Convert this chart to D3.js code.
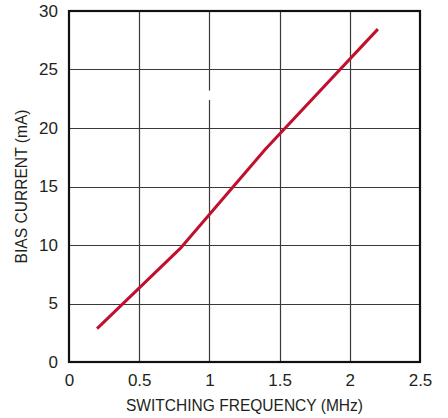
<!DOCTYPE html>
<html>
<head>
<meta charset="utf-8">
<script src="https://cdn.jsdelivr.net/npm/d3@7"></script>
<style>
  body { margin: 0; background: #fff; }
  text { font-family: "Liberation Sans Narrow", "Arial Narrow", "Liberation Sans", sans-serif; fill: #231f20; }
</style>
</head>
<body>
<div id="chart"></div>
<script>
// bias current vs switching frequency
const freqMHz = [0.2, 0.8, 1.4, 2.2];
const biasMA = [2.85, 9.8, 18.2, 28.45];
const xTicks = [0, 0.5, 1, 1.5, 2, 2.5];
const yTicks = [0, 5, 10, 15, 20, 25, 30];
const xTitle = "SWITCHING FREQUENCY (MHz)";
const yTitle = "BIAS CURRENT (mA)";

const width = 448, height = 418;
const margin = {top: 11, right: 28, bottom: 56, left: 69};

const svg = d3.select("#chart").append("svg")
    .attr("width", width)
    .attr("height", height);

const x = d3.scaleLinear().domain([0, 2.5]).range([margin.left, width - margin.right]);
const y = d3.scaleLinear().domain([0, 30]).range([height - margin.bottom, margin.top]);

// grid
const grid = svg.append("g").attr("stroke", "#3a3a3a").attr("stroke-width", 1.2);
grid.selectAll(".vx")
  .data(xTicks.slice(1, -1))
  .join("line")
    .attr("x1", d => Math.round(x(d)) + 0.5).attr("x2", d => Math.round(x(d)) + 0.5)
    .attr("y1", y(30)).attr("y2", y(0));
grid.selectAll(".hy")
  .data(yTicks.slice(1, -1))
  .join("line")
    .attr("y1", d => Math.round(y(d)) + 0.5).attr("y2", d => Math.round(y(d)) + 0.5)
    .attr("x1", x(0)).attr("x2", x(2.5));

// small break in the 1 MHz gridline, as in the original
svg.append("rect")
    .attr("x", x(1) - 2).attr("width", 4)
    .attr("y", y(23.2)).attr("height", y(22.4) - y(23.2))
    .attr("fill", "#fff");

// frame
svg.append("rect")
    .attr("x", x(0)).attr("y", y(30))
    .attr("width", x(2.5) - x(0)).attr("height", y(0) - y(30))
    .attr("fill", "none").attr("stroke", "#111").attr("stroke-width", 2.2);

// curve
const line = d3.line().x((d, i) => x(freqMHz[i])).y(d => y(d));
svg.append("path")
    .datum(biasMA)
    .attr("d", line)
    .attr("fill", "none")
    .attr("stroke", "#c0102e")
    .attr("stroke-width", 3)
    .attr("stroke-linejoin", "round");

// axes labels
const xAxis = d3.axisBottom(x).tickValues(xTicks).tickSize(0).tickPadding(12).tickFormat(d3.format("~g"));
const gx = svg.append("g").attr("transform", `translate(0,${y(0)})`).call(xAxis);
gx.select(".domain").remove();
gx.selectAll("text").attr("font-size", 17).attr("font-family", null).attr("fill", "#231f20");

const yAxis = d3.axisLeft(y).tickValues(yTicks).tickSize(0).tickPadding(11).tickFormat(d3.format("~g"));
const gy = svg.append("g").attr("transform", `translate(${x(0)},0)`).call(yAxis);
gy.select(".domain").remove();
gy.selectAll("text").attr("font-size", 17).attr("font-family", null).attr("fill", "#231f20");

svg.append("text")
    .attr("x", (x(0) + x(2.5)) / 2)
    .attr("y", 411)
    .attr("text-anchor", "middle")
    .attr("font-size", 16)
    .attr("textLength", 237)
    .attr("lengthAdjust", "spacingAndGlyphs")
    .text(xTitle);

svg.append("text")
    .attr("transform", `translate(27,${(y(0) + y(30)) / 2}) rotate(-90)`)
    .attr("text-anchor", "middle")
    .attr("font-size", 16)
    .attr("textLength", 154)
    .attr("lengthAdjust", "spacingAndGlyphs")
    .text(yTitle);
</script>
</body>
</html>
